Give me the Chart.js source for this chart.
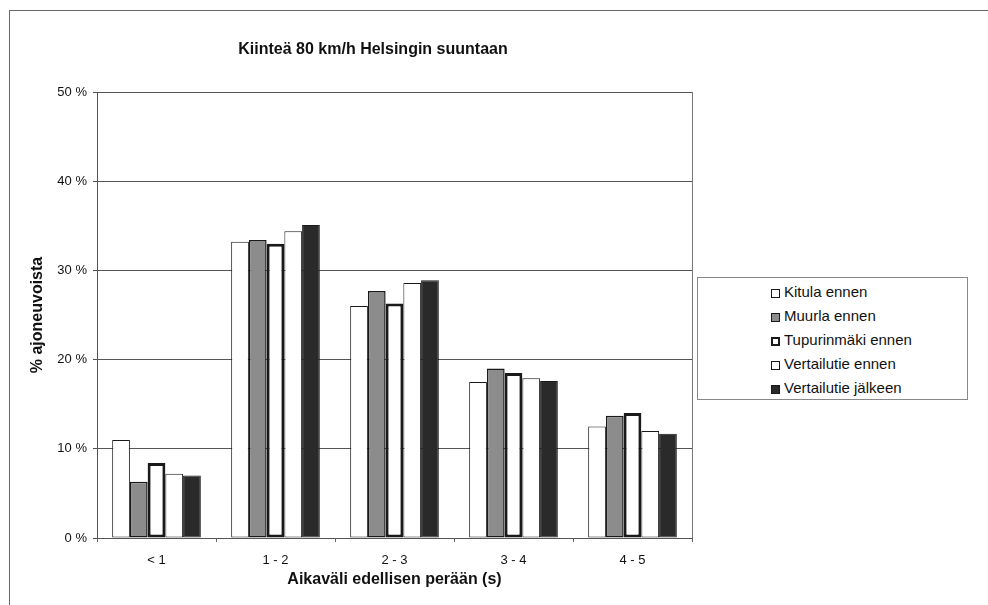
<!DOCTYPE html>
<html>
<head>
<meta charset="utf-8">
<script src="https://cdn.jsdelivr.net/npm/chart.js@4/dist/chart.umd.min.js"></script>
<style>
  body { margin: 0; background: #fff; font-family: "Liberation Sans", Arial, sans-serif; }
  #wrap { position: relative; width: 988px; height: 605px; overflow: hidden; }
  #frame { position: absolute; left: 9px; top: 10px; width: 990px; height: 600px;
           border-top: 1px solid #666; border-left: 1px solid #666; }
  #legend { position: absolute; left: 697px; top: 277px; width: 269px; height: 121px;
            border: 1px solid #888; background: #fff; }
  .item { position: absolute; left: 73px; height: 20px; line-height: 20px; font-size: 15px; color: #111; white-space: nowrap; }
  .sw { display: inline-block; width: 9px; height: 9px; margin-right: 4px; vertical-align: -1px; box-sizing: border-box; }
</style>
</head>
<body>
<div id="wrap">
  <div id="frame"></div>
  <canvas id="c" width="988" height="605" style="position:absolute;left:0;top:0"></canvas>
  <div id="legend"></div>
</div>
<script>
const categories = ["< 1", "1 - 2", "2 - 3", "3 - 4", "4 - 5"];
const seriesNames = ["Kitula ennen", "Muurla ennen", "Tupurinmäki ennen", "Vertailutie ennen", "Vertailutie jälkeen"];

const kitulaEnnen = [11.0, 33.2, 26.0, 17.5, 12.5];
const muurlaEnnen = [6.3, 33.4, 27.7, 19.0, 13.7];
const tupurinmakiEnnen = [8.4, 33.0, 26.3, 18.5, 14.0];
const vertailutieEnnen = [7.2, 34.4, 28.6, 17.9, 12.0];
const vertailutieJalkeen = [7.0, 35.1, 28.9, 17.6, 11.7];

const yTicks = [0, 10, 20, 30, 40, 50];

const chartTitle = "Kiinteä 80 km/h Helsingin suuntaan";
const xTitle = "Aikaväli edellisen perään (s)";
const yTitle = "% ajoneuvoista";

const styles = [
  { bg: "#ffffff", border: "#1a1a1a", bw: 1 },
  { bg: "#8c8c8c", border: "#1a1a1a", bw: 1.5 },
  { bg: "#ffffff", border: "#1a1a1a", bw: 3 },
  { bg: "#ffffff", border: "#1a1a1a", bw: 1 },
  { bg: "#2a2a2a", border: "#1a1a1a", bw: 1 }
];

const allSeries = [kitulaEnnen, muurlaEnnen, tupurinmakiEnnen, vertailutieEnnen, vertailutieJalkeen];

const datasets = allSeries.map((data, i) => ({
  label: seriesNames[i],
  data: data,
  backgroundColor: styles[i].bg,
  borderColor: styles[i].border,
  borderWidth: styles[i].bw,
  borderSkipped: false,
  categoryPercentage: 0.745,
  barPercentage: 1
}));

const FONT = '"Liberation Sans", Arial, sans-serif';

const textPlugin = {
  id: "texts",
  afterDraw(chart) {
    const ctx = chart.ctx;
    const a = chart.chartArea;
    ctx.save();
    // right border of plot
    ctx.strokeStyle = "#777";
    ctx.lineWidth = 1;
    ctx.beginPath();
    ctx.moveTo(Math.round(a.right) + 0.5, a.top);
    ctx.lineTo(Math.round(a.right) + 0.5, a.bottom);
    ctx.stroke();

    ctx.fillStyle = "#111";
    ctx.textAlign = "center";
    ctx.textBaseline = "middle";
    ctx.font = "bold 16px " + FONT;
    ctx.fillText(chartTitle, 373, 50);
    ctx.fillText(xTitle, (a.left + a.right) / 2, 580);
    ctx.translate(38, (a.top + a.bottom) / 2);
    ctx.rotate(-Math.PI / 2);
    ctx.fillText(yTitle, 0, 0);
    ctx.restore();
  }
};

new Chart(document.getElementById("c"), {
  type: "bar",
  data: { labels: categories, datasets },
  options: {
    responsive: false,
    animation: false,
    devicePixelRatio: 1,
    layout: { padding: { left: 0, right: 296, top: 92, bottom: 0 } },
    plugins: { legend: { display: false }, title: { display: false }, tooltip: { enabled: false } },
    scales: {
      x: {
        grid: { drawOnChartArea: false, offset: true, tickLength: 4, color: "#666" },
        border: { display: true, color: "#555" },
        ticks: { color: "#111", font: { family: FONT, size: 13 }, padding: 11 },
        afterFit(scale) { scale.height = 67; }
      },
      y: {
        min: 0,
        max: 50,
        afterBuildTicks(scale) { scale.ticks = yTicks.map(v => ({ value: v })); },
        grid: { color: "#555", tickLength: 4, lineWidth: 1 },
        border: { display: true, color: "#555" },
        ticks: { color: "#111", font: { family: FONT, size: 13 }, padding: 6, callback: v => v + " %" },
        afterFit(scale) { scale.width = 97; }
      }
    }
  },
  plugins: [textPlugin]
});

// legend
const legend = document.getElementById("legend");
seriesNames.forEach((name, i) => {
  const el = document.createElement("div");
  el.className = "item";
  el.style.top = (4 + i * 24) + "px";
  el.innerHTML = `<span class="sw" style="background:${styles[i].bg};border:${i === 2 ? 2.5 : 1}px solid #1a1a1a"></span>${name}`;
  legend.appendChild(el);
});
</script>
</body>
</html>
